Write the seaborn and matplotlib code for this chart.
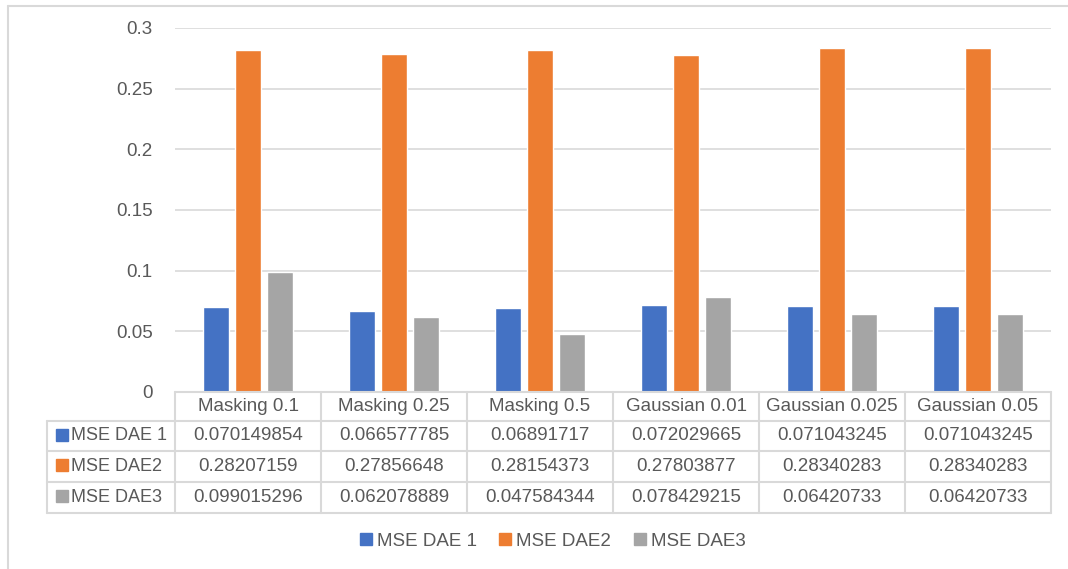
#!/usr/bin/env python3
import numpy as np
import pandas as pd
import seaborn as sns
import matplotlib.pyplot as plt
from matplotlib.lines import Line2D

CATEGORIES = ["Masking 0.1", "Masking 0.25", "Masking 0.5",
              "Gaussian 0.01", "Gaussian 0.025", "Gaussian 0.05"]
SERIES = ["MSE DAE 1", "MSE DAE2", "MSE DAE3"]

MSE_DAE1 = [0.070149854, 0.066577785, 0.06891717, 0.072029665, 0.071043245, 0.071043245]
MSE_DAE2 = [0.28207159, 0.27856648, 0.28154373, 0.27803877, 0.28340283, 0.28340283]
MSE_DAE3 = [0.099015296, 0.062078889, 0.047584344, 0.078429215, 0.06420733, 0.06420733]

# table text exactly as Excel shows it
TABLE_TEXT = {
    "MSE DAE 1": ["0.070149854", "0.066577785", "0.06891717", "0.072029665", "0.071043245", "0.071043245"],
    "MSE DAE2": ["0.28207159", "0.27856648", "0.28154373", "0.27803877", "0.28340283", "0.28340283"],
    "MSE DAE3": ["0.099015296", "0.062078889", "0.047584344", "0.078429215", "0.06420733", "0.06420733"],
}

YTICKS = [0, 0.05, 0.1, 0.15, 0.2, 0.25, 0.3]
YTICK_LABELS = ["0", "0.05", "0.1", "0.15", "0.2", "0.25", "0.3"]

COLORS = ["#4472C4", "#ED7D31", "#A5A5A5"]
TEXT = "#595959"
GRID = "#D9D9D9"

sns.set_style("white")
plt.rcParams["font.family"] = ["Liberation Sans", "DejaVu Sans"]
FS = 13.5

W, H = 1068, 569
fig = plt.figure(figsize=(W / 100, H / 100), dpi=100)

def box(x0, y0, x1, y1):
    # pixel box (top-left origin) -> figure fraction rect
    return [x0 / W, 1 - y1 / H, (x1 - x0) / W, (y1 - y0) / H]

# outer chart border (left and top only visible)
fig.add_artist(Line2D([8 / W, 8 / W], [0, 1 - 6 / H], color="#D9D9D9", lw=1.5))
fig.add_artist(Line2D([8 / W, 1], [1 - 6 / H, 1 - 6 / H], color="#D9D9D9", lw=1.5))

PX0, PX1, PY0, PY1 = 175, 1051, 28, 392
ax = fig.add_axes(box(PX0, PY0, PX1, PY1))

df = pd.DataFrame({
    "setting": CATEGORIES * 3,
    "series": np.repeat(SERIES, len(CATEGORIES)),
    "mse": MSE_DAE1 + MSE_DAE2 + MSE_DAE3,
})
sns.barplot(data=df, x="setting", y="mse", hue="series", order=CATEGORIES,
            hue_order=SERIES, palette=COLORS, width=0.665, gap=0.2,
            saturation=1, legend=False, ax=ax, zorder=3)

ax.set_ylim(0, 0.3)
ax.set_xlim(-0.5, len(CATEGORIES) - 0.5)
ax.set_yticks(YTICKS)
ax.set_yticklabels(YTICK_LABELS, fontsize=FS, color=TEXT)
ax.tick_params(axis="y", length=0, pad=16)
ax.set_xticks([])
ax.set_xlabel("")
ax.set_ylabel("")
ax.grid(axis="y", color=GRID, lw=1.2, zorder=0)
for s in ax.spines.values():
    s.set_visible(False)

# data table under the plot
TX0, TY0, TY1 = 47, 392, 513
row_h = [29, 30, 31, 31]
tax = fig.add_axes(box(TX0, TY0, PX1, TY1))
tax.set_xlim(TX0, PX1)
tax.set_ylim(TY1, TY0)
tax.axis("off")
col_w = (PX1 - PX0) / len(CATEGORIES)
col_edges = [PX0 + i * col_w for i in range(len(CATEGORIES) + 1)]
row_edges = [TY0 + sum(row_h[:i]) for i in range(len(row_h) + 1)]
lc = dict(color="#D9D9D9", lw=1.5, clip_on=False)

tax.plot([PX0, PX1], [row_edges[0]] * 2, **lc)
for y in row_edges[1:]:
    tax.plot([TX0, PX1], [y, y], **lc)
tax.plot([TX0, TX0], [row_edges[1], row_edges[-1]], **lc)
for x in col_edges:
    tax.plot([x, x], [row_edges[0], row_edges[-1]], **lc)

for i, cat in enumerate(CATEGORIES):
    xc = (col_edges[i] + col_edges[i + 1]) / 2
    tax.text(xc, (row_edges[0] + row_edges[1]) / 2, cat, ha="center", va="center",
             fontsize=FS, color=TEXT)
for r, (name, color) in enumerate(zip(SERIES, COLORS)):
    yc = (row_edges[r + 1] + row_edges[r + 2]) / 2
    tax.plot([TX0 + 15], [yc - 1.5], marker="s", ms=9, color=color, clip_on=False)
    tax.text(TX0 + 24, yc, name, ha="left", va="center", fontsize=FS - 0.5, color=TEXT)
    for i, val in enumerate(TABLE_TEXT[name]):
        xc = (col_edges[i] + col_edges[i + 1]) / 2
        tax.text(xc, yc, val, ha="center", va="center", fontsize=FS, color=TEXT)

# legend at the bottom
handles = [Line2D([], [], marker="s", ls="", ms=8.5, color=c) for c in COLORS]
fig.legend(handles, SERIES, loc="center", bbox_to_anchor=(551 / W, 1 - 541 / H),
           ncol=3, frameon=False, fontsize=FS, labelcolor=TEXT,
           handletextpad=0.1, columnspacing=1.0, handlelength=1.0)

fig.savefig("out.png", dpi=100, facecolor="white")
